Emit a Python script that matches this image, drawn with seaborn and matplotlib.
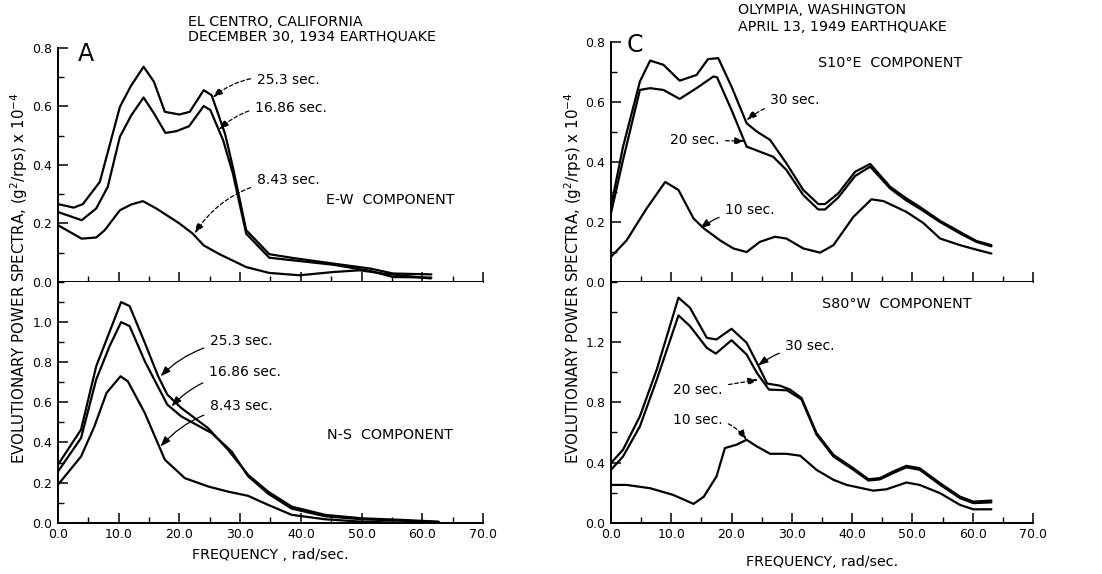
import matplotlib
matplotlib.use("Agg")
import matplotlib.pyplot as plt
import seaborn as sns
import pandas as pd
from matplotlib.ticker import MultipleLocator, FormatStrFormatter

# ---------------- El Centro, E-W component ----------------
ew_253_freq = [0, 2.6, 4.1, 6.9, 10.2, 12.0, 14.1, 15.8, 17.6, 20.0, 21.7, 24.0, 25.3,
               27.5, 28.8, 31.0, 34.8, 38.7, 45.3, 51.4, 55.2, 61.5]
ew_253_val = [0.266, 0.254, 0.266, 0.342, 0.598, 0.669, 0.735, 0.684, 0.581, 0.572, 0.581,
              0.655, 0.638, 0.507, 0.393, 0.177, 0.095, 0.082, 0.063, 0.046, 0.029, 0.026]
ew_1686_freq = [0, 3.9, 6.3, 8.2, 10.2, 12.1, 14.1, 15.8, 17.7, 19.5, 21.6, 24.0, 25.1,
                27.2, 28.8, 31.0, 34.8, 38.7, 45.3, 51.4, 55.2, 61.5]
ew_1686_val = [0.239, 0.211, 0.251, 0.325, 0.496, 0.570, 0.630, 0.576, 0.509, 0.515, 0.532,
               0.601, 0.587, 0.484, 0.371, 0.165, 0.083, 0.074, 0.059, 0.038, 0.017, 0.015]
ew_843_freq = [0, 3.9, 6.3, 7.7, 10.2, 12.1, 14.0, 16.2, 20.0, 22.2, 24.0, 26.6, 31.0,
               34.8, 39.8, 45.3, 49.7, 53.5, 61.4]
ew_843_val = [0.194, 0.148, 0.152, 0.177, 0.245, 0.265, 0.276, 0.251, 0.200, 0.165, 0.125,
              0.095, 0.051, 0.031, 0.023, 0.034, 0.040, 0.029, 0.012]

# ---------------- El Centro, N-S component ----------------
ns_253_freq = [0, 3.8, 6.3, 10.4, 11.8, 14.3, 16.5, 18.0, 20.3, 24.7, 28.0, 31.3, 34.6,
               38.5, 44.0, 50.0, 56.6, 62.7]
ns_253_val = [0.289, 0.464, 0.78, 1.10, 1.08, 0.897, 0.73, 0.639, 0.572, 0.472, 0.364,
              0.239, 0.155, 0.08, 0.039, 0.022, 0.014, 0.005]
ns_1686_freq = [0, 3.8, 6.3, 8.5, 10.4, 11.8, 14.3, 18.0, 20.3, 25.3, 28.6, 31.3, 34.6,
                38.5, 44.0, 50.0, 56.6, 62.7]
ns_1686_val = [0.255, 0.422, 0.714, 0.88, 1.0, 0.98, 0.805, 0.589, 0.53, 0.447, 0.355,
               0.232, 0.145, 0.07, 0.032, 0.017, 0.010, 0.003]
ns_843_freq = [0, 3.8, 6.0, 8.0, 10.3, 11.5, 14.3, 17.6, 20.9, 24.8, 28.0, 31.3, 34.6,
               38.5, 44.0, 50.0, 56.0, 62.7]
ns_843_val = [0.189, 0.33, 0.48, 0.647, 0.73, 0.705, 0.547, 0.314, 0.222, 0.18, 0.155,
              0.134, 0.089, 0.039, 0.017, 0.005, 0.0, 0.0]

# ---------------- Olympia, S10°E component ----------------
se_30_freq = [0, 2.0, 4.8, 6.5, 8.7, 11.4, 14.2, 16.1, 17.8, 20.0, 22.5, 24.2, 26.4, 29.1,
              31.9, 34.4, 35.5, 37.7, 40.5, 43.0, 46.3, 49.0, 51.2, 54.6, 57.9, 60.6, 63.1]
se_30_val = [0.251, 0.451, 0.669, 0.739, 0.725, 0.672, 0.691, 0.744, 0.747, 0.652, 0.53,
             0.502, 0.474, 0.396, 0.307, 0.26, 0.26, 0.296, 0.368, 0.394, 0.318, 0.279,
             0.251, 0.204, 0.167, 0.137, 0.123]
se_20_freq = [0, 2.0, 4.8, 6.5, 8.7, 11.4, 14.2, 17.0, 17.6, 20.0, 22.5, 24.7, 26.9, 29.1,
              31.9, 34.4, 35.5, 37.7, 40.5, 43.0, 46.3, 49.0, 51.2, 54.6, 57.9, 60.6, 63.1]
se_20_val = [0.229, 0.407, 0.641, 0.647, 0.641, 0.611, 0.647, 0.686, 0.683, 0.574, 0.452,
             0.435, 0.418, 0.374, 0.29, 0.242, 0.242, 0.282, 0.354, 0.385, 0.312, 0.272,
             0.245, 0.2, 0.162, 0.134, 0.119]
se_10_freq = [0, 2.6, 5.9, 9.0, 11.2, 13.7, 15.4, 18.1, 20.3, 22.5, 24.7, 27.2, 29.1, 31.9,
              34.7, 36.9, 40.2, 43.2, 45.2, 49.0, 51.8, 54.6, 57.9, 60.6, 63.1]
se_10_val = [0.084, 0.139, 0.245, 0.334, 0.307, 0.212, 0.179, 0.139, 0.112, 0.1, 0.134,
             0.151, 0.145, 0.112, 0.098, 0.123, 0.217, 0.276, 0.27, 0.234, 0.197, 0.145,
             0.123, 0.108, 0.095]

# ---------------- Olympia, S80°W component ----------------
sw_30_freq = [0, 2.0, 4.8, 7.6, 11.2, 13.1, 15.9, 17.5, 20.0, 22.5, 24.2, 25.9, 28.0, 29.7,
              31.6, 34.1, 36.9, 40.2, 42.7, 44.6, 46.8, 49.0, 51.2, 54.6, 57.9, 60.1, 63.1]
sw_30_val = [0.396, 0.485, 0.707, 1.018, 1.496, 1.429, 1.229, 1.218, 1.289, 1.196, 1.063,
             0.925, 0.911, 0.885, 0.829, 0.596, 0.451, 0.362, 0.289, 0.296, 0.34, 0.378,
             0.362, 0.262, 0.173, 0.14, 0.147]
sw_20_freq = [0, 2.0, 4.8, 7.6, 11.2, 13.1, 15.9, 17.4, 20.0, 22.5, 24.2, 26.2, 29.2, 31.6,
              34.1, 36.9, 40.2, 42.7, 44.6, 46.8, 49.0, 51.2, 54.6, 57.9, 60.1, 63.1]
sw_20_val = [0.351, 0.44, 0.64, 0.951, 1.378, 1.307, 1.162, 1.124, 1.213, 1.118, 0.996,
             0.885, 0.88, 0.82, 0.585, 0.44, 0.352, 0.28, 0.288, 0.33, 0.368, 0.352, 0.252,
             0.163, 0.13, 0.135]
sw_10_freq = [0, 2.6, 6.5, 10.3, 13.7, 15.4, 17.5, 18.9, 20.8, 22.5, 24.2, 26.4, 29.1, 31.4,
              34.1, 36.9, 39.1, 43.5, 45.7, 49.0, 51.2, 54.6, 57.9, 60.1, 63.1]
sw_10_val = [0.251, 0.251, 0.229, 0.185, 0.125, 0.173, 0.307, 0.496, 0.518, 0.551, 0.507,
             0.458, 0.458, 0.445, 0.351, 0.285, 0.251, 0.213, 0.222, 0.267, 0.251, 0.196,
             0.118, 0.089, 0.089]

# ---------------- text ----------------
left_title = ["EL CENTRO, CALIFORNIA", "DECEMBER 30, 1934 EARTHQUAKE"]
right_title = ["OLYMPIA, WASHINGTON", "APRIL 13, 1949 EARTHQUAKE"]
y_label = "EVOLUTIONARY POWER SPECTRA, (g$^2$/rps) x 10$^{-4}$"
x_label_left = "FREQUENCY , rad/sec."
x_label_right = "FREQUENCY, rad/sec."
x_ticks = [0, 10, 20, 30, 40, 50, 60, 70]

sns.set_style("ticks")
plt.rcParams["font.family"] = ["DejaVu Sans"]
plt.rcParams.update({
    "xtick.direction": "in", "ytick.direction": "in",
    "text.color": "black", "axes.labelcolor": "black",
    "xtick.color": "black", "ytick.color": "black",
    "axes.edgecolor": "black",
})

fig = plt.figure(figsize=(11.02, 5.74), dpi=100)
fig.patch.set_facecolor("white")

LW = 1.6
FS = 9
FS_TXT = 10.3


def frame(ax, ymax, ymajor, yminor, xlabels):
    ax.set_xlim(0, 70)
    ax.set_ylim(0, ymax)
    for s in ("top", "right"):
        ax.spines[s].set_visible(False)
    for s in ("left", "bottom"):
        ax.spines[s].set_linewidth(1.4)
        ax.spines[s].set_color("black")
    ax.xaxis.set_major_locator(MultipleLocator(10))
    ax.xaxis.set_minor_locator(MultipleLocator(5))
    ax.yaxis.set_major_locator(MultipleLocator(ymajor))
    ax.yaxis.set_minor_locator(MultipleLocator(yminor))
    ax.xaxis.set_major_formatter(FormatStrFormatter("%.1f"))
    ax.yaxis.set_major_formatter(FormatStrFormatter("%.1f"))
    ax.tick_params(which="major", length=7, width=1.1, labelsize=FS, pad=4, colors="black")
    ax.tick_params(which="minor", length=4, width=1.0, colors="black")
    ax.tick_params(axis="x", labelbottom=xlabels)
    ax.set_facecolor("white")
    ax.set_xlabel("")
    ax.set_ylabel("")


def curve(ax, fx, fy):
    df = pd.DataFrame({"freq": fx, "power": fy})
    sns.lineplot(data=df, x="freq", y="power", ax=ax, color="black", lw=LW,
                 sort=False, estimator=None, legend=False)


def note(ax, text, xytext, xy, rad, dashed=True, ha="left"):
    ax.annotate(text, xy=xy, xytext=xytext, fontsize=10, ha=ha, va="center",
                arrowprops=dict(arrowstyle="-|>,head_length=0.6,head_width=0.22",
                                connectionstyle=f"arc3,rad={rad}", lw=0.9,
                                ls=(0, (3, 2)) if dashed else "-", color="black",
                                shrinkA=2, shrinkB=0))


L, W_L = 0.0526, 0.3857
R, W_R = 0.5544, 0.383
MID, BOT = 0.5087, 0.0894

ax_a = fig.add_axes([L, MID, W_L, 0.9169 - MID])
ax_b = fig.add_axes([L, BOT, W_L, MID - BOT])
ax_c = fig.add_axes([R, MID, W_R, 0.9263 - MID])
ax_d = fig.add_axes([R, BOT, W_R, MID - BOT])

# panel A: E-W
curve(ax_a, ew_253_freq, ew_253_val)
curve(ax_a, ew_1686_freq, ew_1686_val)
curve(ax_a, ew_843_freq, ew_843_val)
frame(ax_a, 0.8, 0.2, 0.1, False)
ax_a.text(3.2, 0.818, "A", fontsize=17, va="top", ha="left")
ax_a.text(54.8, 0.279, "E-W  COMPONENT", fontsize=FS_TXT, ha="center", va="center")
note(ax_a, "25.3 sec.", (32.7, 0.69), (25.5, 0.63), 0.25)
note(ax_a, "16.86 sec.", (32.4, 0.594), (26.5, 0.52), 0.25)
note(ax_a, "8.43 sec.", (32.7, 0.348), (22.5, 0.166), 0.25)

# panel B: N-S
curve(ax_b, ns_253_freq, ns_253_val)
curve(ax_b, ns_1686_freq, ns_1686_val)
curve(ax_b, ns_843_freq, ns_843_val)
frame(ax_b, 1.2, 0.2, 0.1, True)
ax_b.set_yticks([0, 0.2, 0.4, 0.6, 0.8, 1.0])
ax_b.set_xticks(x_ticks)
ax_b.set_xlabel(x_label_left, fontsize=FS_TXT, labelpad=5)
ax_b.text(54.7, 0.439, "N-S  COMPONENT", fontsize=FS_TXT, ha="center", va="center")
note(ax_b, "25.3 sec.", (25.0, 0.905), (16.9, 0.73), 0.2, dashed=False)
note(ax_b, "16.86 sec.", (24.8, 0.75), (18.7, 0.58), 0.2, dashed=False)
note(ax_b, "8.43 sec.", (25.0, 0.58), (16.9, 0.38), 0.2, dashed=False)

# panel C: S10°E
curve(ax_c, se_30_freq, se_30_val)
curve(ax_c, se_20_freq, se_20_val)
curve(ax_c, se_10_freq, se_10_val)
frame(ax_c, 0.8, 0.2, 0.1, False)
ax_c.text(2.6, 0.83, "C", fontsize=17, va="top", ha="left")
ax_c.text(46.3, 0.731, "S10°E  COMPONENT", fontsize=FS_TXT, ha="center", va="center")
note(ax_c, "30 sec.", (26.4, 0.608), (22.5, 0.54), 0.15)
note(ax_c, "20 sec.", (13.9, 0.474), (22.2, 0.47), 0.0, ha="center")
note(ax_c, "10 sec.", (18.9, 0.24), (14.8, 0.179), 0.15, dashed=False)

# panel D: S80°W
curve(ax_d, sw_30_freq, sw_30_val)
curve(ax_d, sw_20_freq, sw_20_val)
curve(ax_d, sw_10_freq, sw_10_val)
frame(ax_d, 1.6, 0.4, 0.2, True)
ax_d.set_yticks([0, 0.4, 0.8, 1.2])
ax_d.set_xticks(x_ticks)
ax_d.set_xlabel(x_label_right, fontsize=FS_TXT, labelpad=10)
ax_d.text(47.4, 1.451, "S80°W  COMPONENT", fontsize=FS_TXT, ha="center", va="center")
note(ax_d, "30 sec.", (28.9, 1.173), (24.4, 1.045), 0.15, dashed=False)
note(ax_d, "20 sec.", (14.4, 0.885), (24.4, 0.95), 0.0, ha="center")
note(ax_d, "10 sec.", (14.4, 0.685), (22.5, 0.551), -0.3, ha="center")

# shared titles and y labels
fig.text(188 / 1102, 1 - 22 / 574, left_title[0], fontsize=FS_TXT, ha="left", va="center")
fig.text(188 / 1102, 1 - 37 / 574, left_title[1], fontsize=FS_TXT, ha="left", va="center")
fig.text(738 / 1102, 1 - 10 / 574, right_title[0], fontsize=FS_TXT, ha="left", va="center")
fig.text(738 / 1102, 1 - 27 / 574, right_title[1], fontsize=FS_TXT, ha="left", va="center")
fig.text(19 / 1102, 1 - 278 / 574, y_label, fontsize=10.8, rotation=90,
         ha="center", va="center")
fig.text(573 / 1102, 1 - 278 / 574, y_label, fontsize=10.8, rotation=90,
         ha="center", va="center")

fig.savefig("out.png", dpi=100, facecolor="white")
